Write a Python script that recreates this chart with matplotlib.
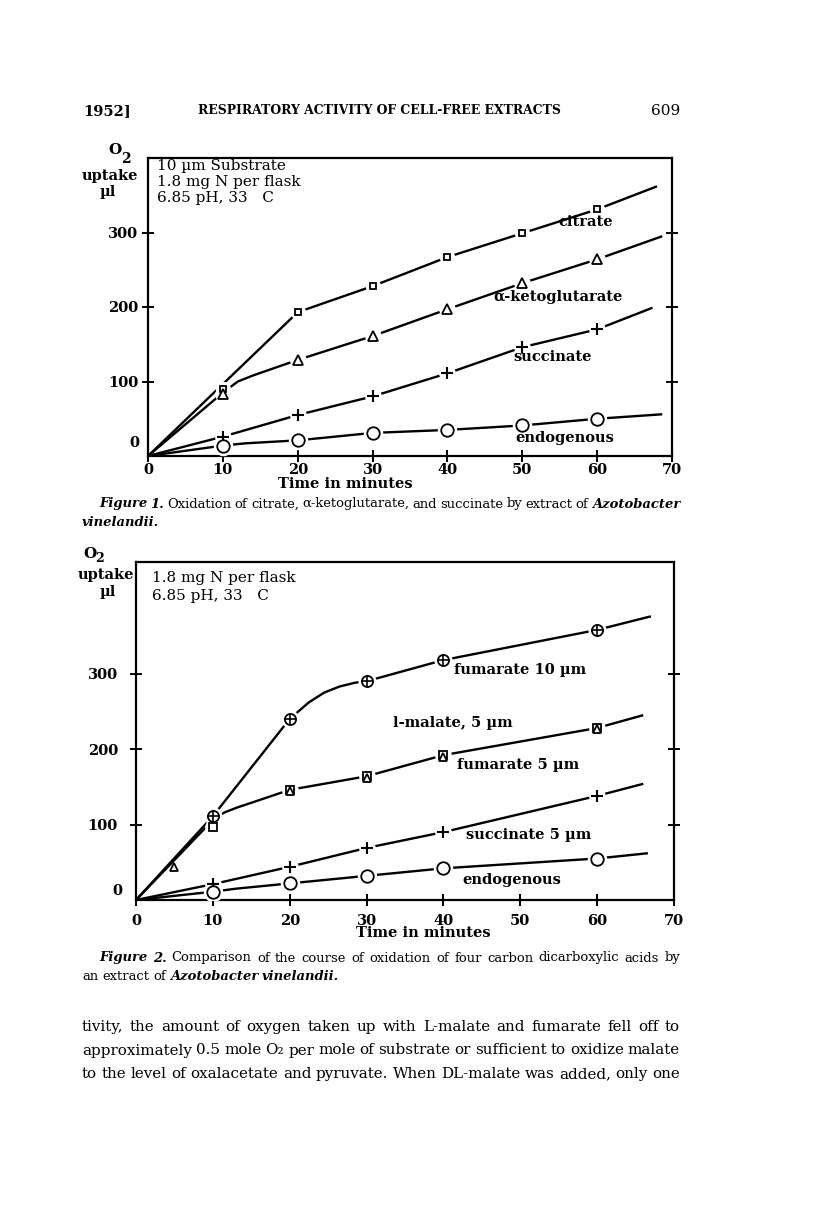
import matplotlib
matplotlib.use("Agg")
import matplotlib.pyplot as plt
from matplotlib.transforms import IdentityTransform

plt.rcParams['font.family'] = ['DejaVu Serif', 'DejaVu Sans']

W, H = 816, 1209

# ---- Figure 1 data ----
f1_x = [0, 10, 20, 30, 40, 50, 60]
citrate = [0, 90, 193, 228, 267, 299, 331]
keto = [0, 83, 129, 161, 197, 232, 264]
succ = [0, 26, 55, 80, 111, 146, 170]
endo1 = [0, 13, 21, 31, 35, 41, 50]
# line paths (include the bends and line ends past the last point)
citrate_path_x = [0, 20, 30, 40, 50, 60, 68]
citrate_path_y = [0, 193, 228, 267, 299, 331, 362]
keto_path_x = [0, 10, 12, 14, 20, 30, 40, 50, 60, 68.7]
keto_path_y = [0, 85, 100, 108, 129, 161, 197, 232, 264, 295]
succ_path_x = [0, 10, 20, 30, 40, 50, 60, 67.4]
succ_path_y = [0, 26, 55, 80, 111, 146, 170, 199]
endo1_path_x = [0, 10, 13, 20, 30, 40, 50, 60, 68.7]
endo1_path_y = [0, 14, 17, 21, 31, 35, 41, 50, 56]

# ---- Figure 2 data ----
f2_x = [10, 20, 30, 40, 60]
fum10 = [111, 240, 290, 318, 358]
malate = [97, 146, 164, 192, 228]
succ5 = [21, 44, 69, 90, 138]
endo2 = [11, 22, 32, 42, 55]
fum5_tri_x = [5, 20, 30, 40, 60]
fum5_tri_y = [44, 144, 162, 190, 226]
fum10_path_x = [0, 10, 20, 22.5, 24.5, 26.5, 28.5, 30, 40, 60, 67]
fum10_path_y = [0, 111, 240, 262, 275, 283, 288, 290, 318, 358, 376]
malate_path_x = [0, 10, 11.5, 13, 20, 30, 40, 60, 66]
malate_path_y = [0, 106, 116, 122, 146, 164, 192, 228, 245]
succ5_path_x = [0, 10, 20, 30, 40, 60, 66]
succ5_path_y = [0, 21, 44, 69, 90, 138, 154]
endo2_path_x = [0, 10, 13, 20, 30, 40, 60, 66.6]
endo2_path_y = [0, 11, 15, 22, 32, 42, 55, 62]

fig = plt.figure(figsize=(W / 100, H / 100), dpi=100)
fig.patch.set_facecolor('white')


def px_text(x, y, s, **kw):
    # place text with pixel coordinates measured from the top-left
    return fig.text(x, H - y, s, transform=IdentityTransform(), **kw)


def make_axes(l, t, r, b, ylim):
    ax = fig.add_axes([l / W, 1 - b / H, (r - l) / W, (b - t) / H])
    ax.set_xlim(0, 70)
    ax.set_ylim(*ylim)
    for sp in ax.spines.values():
        sp.set_linewidth(1.6)
    ax.tick_params(direction='inout', length=8, width=1.4, labelsize=10.5,
                   right=True, top=False)
    ax.set_xticks(range(0, 71, 10))
    ax.set_yticks([100, 200, 300])
    for lab in ax.get_xticklabels() + ax.get_yticklabels():
        lab.set_fontweight('bold')
    return ax


def series(ax, px_, py_, mx, my, marker, ms, halo=13, mew=1.3, plus=False):
    ax.plot(px_, py_, color='black', lw=1.7, solid_capstyle='butt', zorder=2)
    ax.plot(mx, my, ls='none', marker='o', ms=halo, mfc='white', mec='white', zorder=3)
    ax.plot(mx, my, ls='none', marker=marker, ms=ms, mfc='white', mec='black',
            mew=mew, zorder=4)
    if plus:
        ax.plot(mx, my, ls='none', marker='+', ms=ms, mec='black', mew=1.2, zorder=5)


# ---------------- page header ----------------
px_text(83, 111, '1952]', fontsize=10.5, fontweight='bold', va='center')
px_text(379, 111, 'RESPIRATORY ACTIVITY OF CELL-FREE EXTRACTS', fontsize=8.9,
        fontweight='bold', va='center', ha='center')
px_text(651, 111, '609', fontsize=11, va='center')

# ---------------- Figure 1 ----------------
ax1 = make_axes(148, 158, 672, 456, (0, 400))
ax1.tick_params(axis='x', pad=1)
ax1.tick_params(axis='y', pad=3)
series(ax1, citrate_path_x, citrate_path_y, f1_x[1:], citrate[1:], 's', 5, halo=10)
series(ax1, keto_path_x, keto_path_y, f1_x[1:], keto[1:], '^', 7, halo=11)
series(ax1, succ_path_x, succ_path_y, f1_x[1:], succ[1:], '+', 9, halo=11, mew=1.5)
series(ax1, endo1_path_x, endo1_path_y, f1_x[1:], endo1[1:], 'o', 9, halo=13)
ax1.set_xticklabels(['0', '10', '20', '30', '40', '50', '60', '70'])
ax1.text(54.8, 314, 'citrate', fontsize=10.5, fontweight='bold', va='center', zorder=6)
ax1.text(46.1, 213, 'α-ketoglutarate', fontsize=10.5, fontweight='bold', va='center')
ax1.text(48.8, 133, 'succinate', fontsize=10.5, fontweight='bold', va='center')
ax1.text(49.1, 24, 'endogenous', fontsize=10.5, fontweight='bold', va='center')
px_text(157, 166, '10 µm Substrate', fontsize=11, va='center')
px_text(157, 182, '1.8 mg N per flask', fontsize=11, va='center')
px_text(157, 198, '6.85 pH, 33   C', fontsize=11, va='center')
px_text(134, 443, '0', fontsize=10.5, fontweight='bold', va='center', ha='center')
px_text(115, 150, 'O', fontsize=11, fontweight='bold', va='center', ha='center')
px_text(126, 159, '2', fontsize=10, fontweight='bold', va='center', ha='center')
px_text(110, 176, 'uptake', fontsize=10.5, fontweight='bold', va='center', ha='center')
px_text(108, 192, 'µl', fontsize=10.5, fontweight='bold', va='center', ha='center')
px_text(345, 484, 'Time in minutes', fontsize=10.5, fontweight='bold', va='center', ha='center')

# ---------------- Figure 2 ----------------
ax2 = make_axes(136, 562, 674, 900, (0, 448))
ax2.tick_params(axis='x', pad=6)
ax2.tick_params(axis='y', pad=9)
series(ax2, fum10_path_x, fum10_path_y, f2_x, fum10, 'o', 8, halo=12, plus=True)
series(ax2, malate_path_x, malate_path_y, f2_x, malate, 's', 6, halo=11)
ax2.plot(fum5_tri_x, fum5_tri_y, ls='none', marker='^', ms=6, mfc='white',
         mec='black', mew=1.3, zorder=4)
series(ax2, succ5_path_x, succ5_path_y, f2_x, succ5, '+', 9, halo=11, mew=1.5)
series(ax2, endo2_path_x, endo2_path_y, f2_x, endo2, 'o', 9, halo=13)
ax2.set_xticklabels(['0', '10', '20', '30', '40', '50', '60', '70'])
ax2.text(41.4, 305, 'fumarate 10 µm', fontsize=10.5, fontweight='bold', va='center')
ax2.text(33.4, 234, 'l-malate, 5 µm', fontsize=10.5, fontweight='bold', va='center')
ax2.text(41.8, 179, 'fumarate 5 µm', fontsize=10.5, fontweight='bold', va='center')
ax2.text(42.9, 86, 'succinate 5 µm', fontsize=10.5, fontweight='bold', va='center')
ax2.text(42.5, 27, 'endogenous', fontsize=10.5, fontweight='bold', va='center')
px_text(152, 578, '1.8 mg N per flask', fontsize=11, va='center')
px_text(152, 596, '6.85 pH, 33   C', fontsize=11, va='center')
px_text(117, 891, '0', fontsize=10.5, fontweight='bold', va='center', ha='center')
px_text(90, 554, 'O', fontsize=11, fontweight='bold', va='center', ha='center')
px_text(100, 559, '2', fontsize=9, fontweight='bold', va='center', ha='center')
px_text(106, 575, 'uptake', fontsize=10.5, fontweight='bold', va='center', ha='center')
px_text(108, 592, 'µl', fontsize=10.5, fontweight='bold', va='center', ha='center')
px_text(423, 933, 'Time in minutes', fontsize=10.5, fontweight='bold', va='center', ha='center')

# ---------------- captions and body text ----------------
renderer = fig.canvas.get_renderer()


def style_of(tok):
    if tok.startswith('*'):
        return dict(style='italic', fontweight='bold')
    return dict(style='normal', fontweight='normal')


def fit_size(tokens, width, size=10.0):
    # font size at which the line with normal spaces fills the width
    parts = []
    for tok in tokens:
        parts.append(px_text(0, 0, tok.lstrip('*'), fontsize=size, **style_of(tok)))
    sp = px_text(0, 0, 'a a', fontsize=size)
    sp2 = px_text(0, 0, 'aa', fontsize=size)
    space = sp.get_window_extent(renderer).width - sp2.get_window_extent(renderer).width
    total = sum(p.get_window_extent(renderer).width for p in parts) + space * (len(parts) - 1)
    for p in parts + [sp, sp2]:
        p.remove()
    return size * width / total


def justify(tokens, x0, x1, y, size, fill=True):
    texts = [px_text(0, y, tok.lstrip('*'), fontsize=size, va='center', **style_of(tok))
             for tok in tokens]
    widths = [t.get_window_extent(renderer).width for t in texts]
    space = size * 0.42
    if fill and len(texts) > 1:
        space = (x1 - x0 - sum(widths)) / (len(texts) - 1)
    x = x0
    for t, w in zip(texts, widths):
        t.set_position((x, H - y))
        x += w + space


cap1 = ('*Figure *1. Oxidation of citrate, α-ketoglutarate, and succinate by '
        'extract of *Azotobacter').split(' ')
cap2 = ('*Figure *2. Comparison of the course of oxidation of four carbon '
        'dicarboxylic acids by').split(' ')
cap_size = 0.5 * (fit_size(cap1, 581) + fit_size(cap2, 581))
justify(cap1, 99, 680, 504, cap_size)
justify(['*vinelandii.'], 82, 680, 522, cap_size, fill=False)
justify(cap2, 99, 680, 958, cap_size)
justify('an extract of *Azotobacter *vinelandii.'.split(' '), 82, 680, 976, cap_size, fill=False)

body = [
    'tivity, the amount of oxygen taken up with L-malate and fumarate fell off to',
    'approximately 0.5 mole O₂ per mole of substrate or sufficient to oxidize malate',
    'to the level of oxalacetate and pyruvate. When DL-malate was added, only one',
]
body_size = sum(fit_size(l.split(' '), 598) for l in body) / len(body)
for i, line in enumerate(body):
    justify(line.split(' '), 82, 680, 1027 + 23.5 * i, body_size)

fig.savefig('out.png', dpi=100, facecolor='white')
